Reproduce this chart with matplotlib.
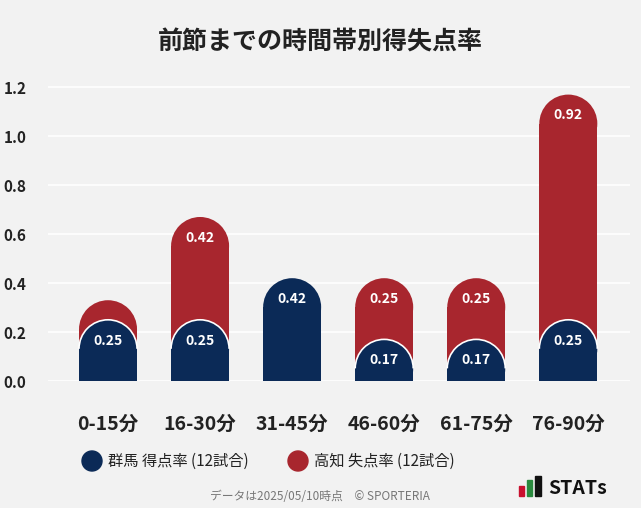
import matplotlib
matplotlib.use("Agg")
import matplotlib.pyplot as plt
from matplotlib.patches import Rectangle, Ellipse, Arc

plt.rcParams["font.family"] = "Noto Sans CJK JP"

categories = ["0-15分", "16-30分", "31-45分", "46-60分", "61-75分", "76-90分"]
gunma = [0.25, 0.25, 0.42, 0.17, 0.17, 0.25]
kochi = [0.08, 0.42, 0.0, 0.25, 0.25, 0.92]
yticks = [0.0, 0.2, 0.4, 0.6, 0.8, 1.0, 1.2]

BLUE = "#0b2a57"
RED = "#a8262e"
BG = "#f2f2f2"

fig = plt.figure(figsize=(6.41, 5.08), dpi=100, facecolor=BG)
ax = fig.add_axes([48/641, 127/508, 582/641, 306/508], facecolor=BG)
ax.set_xlim(-0.652, 5.67)
ax.set_ylim(0, 1.25)

px_x = (5.67 + 0.652) / 582
px_y = 1.25 / 306
w = 58 * px_x
r = 29 * px_y

def rbar(x, top, color, ec=None, z=3):
    body = top - r
    ax.add_patch(Rectangle((x - w/2, 0), w, max(body, 0), facecolor=color, edgecolor="none", zorder=z))
    ax.add_patch(Ellipse((x, body), w, 2*r, facecolor=color, edgecolor="none", zorder=z))
    if ec:
        ax.add_patch(Arc((x, body), w, 2*r, theta1=0, theta2=180, edgecolor=ec, lw=1.2, zorder=z+0.5))

for i, (g, k) in enumerate(zip(gunma, kochi)):
    if k > 0:
        rbar(i, g + k, RED, z=2)
        if k >= 0.15:
            ax.text(i, g + k - 0.085, f"{k:.2f}", color="white", ha="center", va="center",
                    fontsize=10, fontweight="bold", zorder=6)
    rbar(i, g, BLUE, ec="white" if k > 0 else None, z=3)
    ax.text(i, g - 0.085, f"{g:.2f}", color="white", ha="center", va="center",
            fontsize=10, fontweight="bold", zorder=6)

ax.set_yticks(yticks)
ax.set_yticklabels([f"{v:.1f}" for v in yticks], fontsize=11, fontweight="bold", color="#222")
ax.set_xticks(range(len(categories)))
ax.set_xticklabels(categories, fontsize=14, fontweight="bold", color="#222")
ax.tick_params(length=0)
ax.tick_params(axis="x", pad=24)
ax.tick_params(axis="y", pad=32)
for lab in ax.get_yticklabels():
    lab.set_horizontalalignment("left")
ax.grid(axis="y", color="white", lw=1.2, zorder=0)
for s in ax.spines.values():
    s.set_visible(False)

fig.text(0.5, 1 - 42/508, "前節までの時間帯別得失点率", ha="center", va="center",
         fontsize=18, fontweight="bold", color="#222")

lax = fig.add_axes([0, 0, 1, 1], facecolor="none")
lax.set_xlim(0, 641); lax.set_ylim(508, 0); lax.axis("off")
lax.add_patch(Ellipse((92, 461), 20, 20, color=BLUE))
lax.text(108, 461, "群馬 得点率 (12試合)", va="center", fontsize=11, color="#222")
lax.add_patch(Ellipse((298, 461), 20, 20, color=RED))
lax.text(314, 461, "高知 失点率 (12試合)", va="center", fontsize=11, color="#222")
lax.text(320, 496, "データは2025/05/10時点　© SPORTERIA", ha="center", va="center", fontsize=8.5, color="#777")
lax.text(548, 489, "STATs", ha="left", va="center", fontsize=14, fontweight="bold", color="#111")
lax.add_patch(Rectangle((519, 486), 5, 10, color="#c8102e"))
lax.add_patch(Rectangle((527, 480), 5, 16, color="#2a8a3e"))
lax.add_patch(Rectangle((535, 476), 6, 20, color="#111"))

fig.savefig("out.png", dpi=100, facecolor=BG)
